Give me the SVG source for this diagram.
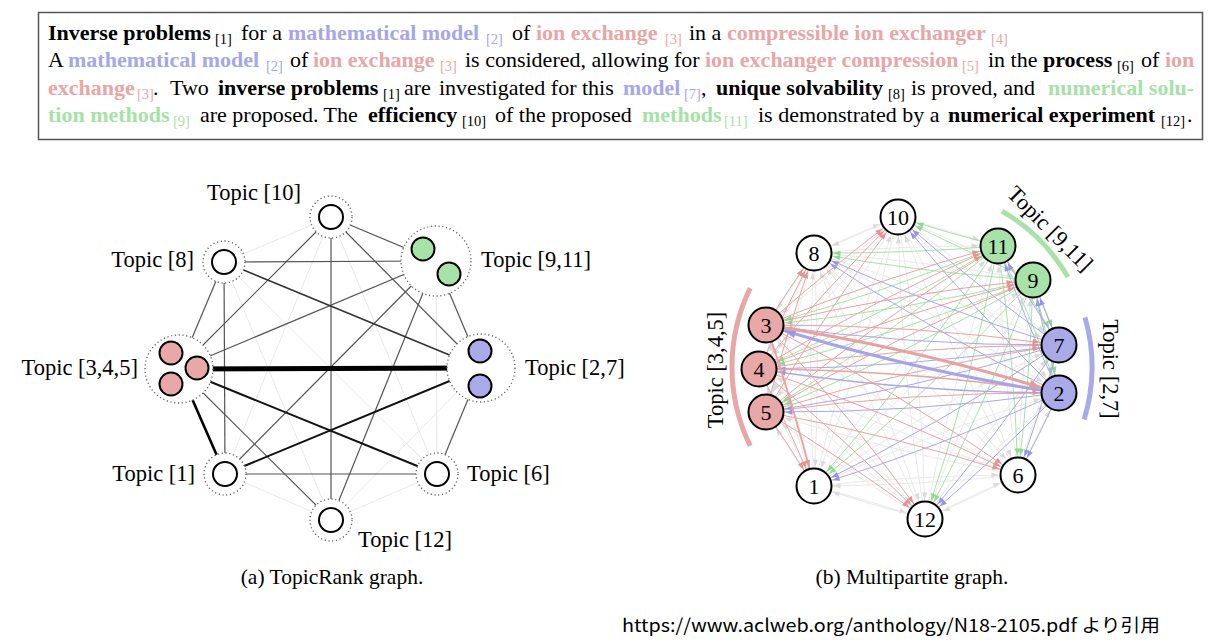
<svg xmlns="http://www.w3.org/2000/svg" width="1229" height="643" viewBox="0 0 1229 643">
<style>
.t{font-family:"Liberation Serif","Times New Roman",serif;font-size:22px;fill:#000}
.b{font-weight:bold}
.s{font-size:14.5px}
.cb{fill:#a6a6e8}.cp{fill:#e8a6a6}.cg{fill:#a6e2a6}
.lbl{font-family:"Liberation Serif","Times New Roman",serif;font-size:22.5px;fill:#000}
.cap{font-family:"Liberation Serif","Times New Roman",serif;font-size:21.5px;fill:#000}
.num{font-family:"Liberation Serif","Times New Roman",serif;font-size:22px;fill:#000;text-anchor:middle}
.dot{fill:#fff;stroke:#666;stroke-width:1.4;stroke-dasharray:1.2 2.6}
.n{stroke:#000;stroke-width:2}
.w{fill:#fff}.p{fill:#e8a8a8}.bl{fill:#aaaae8}.g{fill:#a8e2a8}
.lm{stroke:#555;stroke-width:1.2}
.lf{stroke:#e8e8e8;stroke-width:1}
.eg path{stroke:#e9e9e9;stroke-width:1;fill:none;marker-end:url(#ag)}
.egr path{stroke:#a8e0a8;stroke-width:1;fill:none;marker-end:url(#agr)}
.ebl path{stroke:#a8a8e6;stroke-width:1;fill:none;marker-end:url(#abl)}
.ere path{stroke:#e6a4a4;stroke-width:1;fill:none;marker-end:url(#are)}
</style>
<defs>
<marker id="ag" markerUnits="userSpaceOnUse" orient="auto" refX="39.5" refY="3" markerWidth="40" markerHeight="6" overflow="visible"><path d="M20 3L13 0.4L13 5.6Z" fill="#dadada"/></marker>
<marker id="agr" markerUnits="userSpaceOnUse" orient="auto" refX="39.5" refY="3" markerWidth="40" markerHeight="6" overflow="visible"><path d="M20 3L13 0.4L13 5.6Z" fill="#90d890"/></marker>
<marker id="abl" markerUnits="userSpaceOnUse" orient="auto" refX="39.5" refY="3" markerWidth="40" markerHeight="6" overflow="visible"><path d="M20 3L13 0.4L13 5.6Z" fill="#9494e2"/></marker>
<marker id="are" markerUnits="userSpaceOnUse" orient="auto" refX="39.5" refY="3" markerWidth="40" markerHeight="6" overflow="visible"><path d="M20 3L13 0.4L13 5.6Z" fill="#e29494"/></marker>
<marker id="areT" markerUnits="userSpaceOnUse" orient="auto" refX="39.5" refY="5" markerWidth="40" markerHeight="10" overflow="visible"><path d="M20 5L9 0.8L9 9.2Z" fill="#e29a9a"/></marker>
<marker id="ablT" markerUnits="userSpaceOnUse" orient="auto" refX="39.5" refY="5" markerWidth="40" markerHeight="10" overflow="visible"><path d="M20 5L9 0.8L9 9.2Z" fill="#9a9ae2"/></marker>
</defs>
<rect width="1229" height="643" fill="#fff"/>

<g id="abstract">
<rect x="38.5" y="12.5" width="1164" height="127" fill="#fff" stroke="#555" stroke-width="1.5"/>
<text class="t" y="40">
<tspan x="48" class="b">Inverse problems</tspan><tspan x="215" y="44" class="s">[1]</tspan><tspan x="241" y="40">for a</tspan><tspan x="288" class="b cb">mathematical model</tspan><tspan x="486" y="44" class="s cb">[2]</tspan><tspan x="512" y="40">of</tspan><tspan x="536" class="b cp">ion exchange</tspan><tspan x="665" y="44" class="s cp">[3]</tspan><tspan x="689" y="40">in a</tspan><tspan x="727" class="b cp">compressible ion exchanger</tspan><tspan x="991" y="44" class="s cp">[4]</tspan>
</text>
<text class="t" y="67">
<tspan x="48">A</tspan><tspan x="68" class="b cb">mathematical model</tspan><tspan x="266" y="71" class="s cb">[2]</tspan><tspan x="290" y="67">of</tspan><tspan x="313" class="b cp">ion exchange</tspan><tspan x="440" y="71" class="s cp">[3]</tspan><tspan x="465" y="67">is considered, allowing for</tspan><tspan x="705" class="b cp">ion exchanger compression</tspan><tspan x="962" y="71" class="s cp">[5]</tspan><tspan x="988" y="67">in the</tspan><tspan x="1043" class="b">process</tspan><tspan x="1117" y="71" class="s">[6]</tspan><tspan x="1141" y="67">of</tspan><tspan x="1165" class="b cp">ion</tspan>
</text>
<text class="t" y="95">
<tspan x="48" class="b cp">exchange</tspan><tspan x="137" y="99" class="s cp">[3]</tspan><tspan x="153" y="95">.</tspan><tspan x="170">Two</tspan><tspan x="218" class="b">inverse problems</tspan><tspan x="383" y="99" class="s">[1]</tspan><tspan x="404" y="95">are</tspan><tspan x="439">investigated for this</tspan><tspan x="623" class="b cb">model</tspan><tspan x="684" y="99" class="s cb">[7]</tspan><tspan x="701" y="95">,</tspan><tspan x="716" class="b">unique solvability</tspan><tspan x="888" y="99" class="s">[8]</tspan><tspan x="911" y="95">is proved, and</tspan><tspan x="1048" class="b cg">numerical solu-</tspan>
</text>
<text class="t" y="122">
<tspan x="48" class="b cg">tion methods</tspan><tspan x="173" y="126" class="s cg">[9]</tspan><tspan x="200" y="122">are proposed. The</tspan><tspan x="368" class="b">efficiency</tspan><tspan x="462" y="126" class="s">[10]</tspan><tspan x="495" y="122">of the proposed</tspan><tspan x="642" class="b cg">methods</tspan><tspan x="724" y="126" class="s cg">[11]</tspan><tspan x="758" y="122">is demonstrated by a</tspan><tspan x="948" class="b">numerical experiment</tspan><tspan x="1161" y="126" class="s">[12]</tspan><tspan x="1187" y="122">.</tspan>
</text>
</g>

<g id="connectors-a">
<line class="lf" x1="331" y1="217" x2="224" y2="262"/>
<line class="lf" x1="331" y1="217" x2="225" y2="474"/>
<line class="lf" x1="331" y1="217" x2="437" y2="474"/>
<line class="lf" x1="224" y1="262" x2="437" y2="474"/>
<line class="lf" x1="224" y1="262" x2="331" y2="520"/>
<line class="lf" x1="436" y1="261" x2="437" y2="474"/>
<line class="lf" x1="481" y1="368" x2="331" y2="520"/>
<line class="lf" x1="225" y1="474" x2="331" y2="520"/>
<line class="lf" x1="437" y1="474" x2="331" y2="520"/>
<line class="lm" x1="331" y1="217" x2="436" y2="261"/>
<line class="lm" x1="331" y1="217" x2="179" y2="369"/>
<line class="lm" x1="331" y1="217" x2="481" y2="368"/>
<line class="lm" x1="331" y1="217" x2="331" y2="520"/>
<line class="lm" x1="224" y1="262" x2="436" y2="261"/>
<line class="lm" x1="224" y1="262" x2="179" y2="369"/>
<line class="lm" x1="224" y1="262" x2="225" y2="474"/>
<line class="lm" x1="436" y1="261" x2="179" y2="369"/>
<line class="lm" x1="436" y1="261" x2="481" y2="368"/>
<line class="lm" x1="436" y1="261" x2="225" y2="474"/>
<line class="lm" x1="436" y1="261" x2="331" y2="520"/>
<line class="lm" x1="179" y1="369" x2="331" y2="520"/>
<line class="lm" x1="481" y1="368" x2="437" y2="474"/>
<line class="lm" x1="225" y1="474" x2="437" y2="474"/>
<line x1="224" y1="262" x2="481" y2="368" stroke="#333" stroke-width="1.6"/>
<line x1="481" y1="368" x2="225" y2="474" stroke="#111" stroke-width="2"/>
<line x1="179" y1="369" x2="437" y2="474" stroke="#111" stroke-width="2"/>
<line x1="179" y1="369" x2="225" y2="474" stroke="#000" stroke-width="2.6"/>
<line x1="179" y1="369" x2="481" y2="368" stroke="#000" stroke-width="5"/>
</g>

<g id="topic10-a"><circle class="dot" cx="331" cy="217" r="21"/><circle class="n w" cx="331" cy="217" r="12"/><text class="lbl" x="301" y="200" text-anchor="end">Topic [10]</text></g>
<g id="topic8-a"><circle class="dot" cx="224" cy="262" r="21"/><circle class="n w" cx="224" cy="262" r="12"/><text class="lbl" x="194" y="267" text-anchor="end">Topic [8]</text></g>
<g id="topic911-a"><circle class="dot" cx="436" cy="261" r="35"/><circle class="n g" cx="423" cy="249" r="11.5"/><circle class="n g" cx="449" cy="274" r="11.5"/><text class="lbl" x="481" y="267">Topic [9,11]</text></g>
<g id="topic345-a"><circle class="dot" cx="179" cy="369" r="34"/><circle class="n p" cx="171" cy="353" r="11.5"/><circle class="n p" cx="197" cy="368" r="11.5"/><circle class="n p" cx="171" cy="384" r="11.5"/><text class="lbl" x="138" y="375" text-anchor="end">Topic [3,4,5]</text></g>
<g id="topic27-a"><circle class="dot" cx="481" cy="368" r="34"/><circle class="n bl" cx="480" cy="351" r="11.5"/><circle class="n bl" cx="480" cy="386" r="11.5"/><text class="lbl" x="525" y="375">Topic [2,7]</text></g>
<g id="topic1-a"><circle class="dot" cx="225" cy="474" r="21"/><circle class="n w" cx="225" cy="474" r="12"/><text class="lbl" x="195" y="481" text-anchor="end">Topic [1]</text></g>
<g id="topic6-a"><circle class="dot" cx="437" cy="474" r="21"/><circle class="n w" cx="437" cy="474" r="12"/><text class="lbl" x="467" y="481">Topic [6]</text></g>
<g id="topic12-a"><circle class="dot" cx="331" cy="520" r="21"/><circle class="n w" cx="331" cy="520" r="12"/><text class="lbl" x="358" y="547">Topic [12]</text></g>
<text class="cap" x="332" y="584" text-anchor="middle">(a) TopicRank graph.</text>

<g id="connectors-b">
<g class="eg">
<path d="M814 486A2000 2000 0 0 1 1059 393"/><path d="M814 486A2000 2000 0 0 1 766 325"/><path d="M814 486A2000 2000 0 0 1 759 369"/><path d="M814 486A2000 2000 0 0 1 766 412"/><path d="M814 486A2000 2000 0 0 1 1018 475"/><path d="M814 486A2000 2000 0 0 1 1059 345"/><path d="M814 486A2000 2000 0 0 1 814 253"/><path d="M814 486A2000 2000 0 0 1 1033 280"/><path d="M814 486A2000 2000 0 0 1 898 217"/><path d="M814 486A2000 2000 0 0 1 998 246"/><path d="M814 486A2000 2000 0 0 1 925 519"/>
<path d="M1018 475A2000 2000 0 0 1 814 486"/><path d="M1018 475A2000 2000 0 0 1 1059 393"/><path d="M1018 475A2000 2000 0 0 1 766 325"/><path d="M1018 475A2000 2000 0 0 1 759 369"/><path d="M1018 475A2000 2000 0 0 1 766 412"/><path d="M1018 475A2000 2000 0 0 1 1059 345"/><path d="M1018 475A2000 2000 0 0 1 814 253"/><path d="M1018 475A2000 2000 0 0 1 1033 280"/><path d="M1018 475A2000 2000 0 0 1 898 217"/><path d="M1018 475A2000 2000 0 0 1 998 246"/><path d="M1018 475A2000 2000 0 0 1 925 519"/>
<path d="M814 253A2000 2000 0 0 1 814 486"/><path d="M814 253A2000 2000 0 0 1 1059 393"/><path d="M814 253A2000 2000 0 0 1 766 325"/><path d="M814 253A2000 2000 0 0 1 759 369"/><path d="M814 253A2000 2000 0 0 1 766 412"/><path d="M814 253A2000 2000 0 0 1 1018 475"/><path d="M814 253A2000 2000 0 0 1 1059 345"/><path d="M814 253A2000 2000 0 0 1 1033 280"/><path d="M814 253A2000 2000 0 0 1 898 217"/><path d="M814 253A2000 2000 0 0 1 998 246"/><path d="M814 253A2000 2000 0 0 1 925 519"/>
<path d="M898 217A2000 2000 0 0 1 814 486"/><path d="M898 217A2000 2000 0 0 1 1059 393"/><path d="M898 217A2000 2000 0 0 1 766 325"/><path d="M898 217A2000 2000 0 0 1 759 369"/><path d="M898 217A2000 2000 0 0 1 766 412"/><path d="M898 217A2000 2000 0 0 1 1018 475"/><path d="M898 217A2000 2000 0 0 1 1059 345"/><path d="M898 217A2000 2000 0 0 1 814 253"/><path d="M898 217A2000 2000 0 0 1 1033 280"/><path d="M898 217A2000 2000 0 0 1 998 246"/><path d="M898 217A2000 2000 0 0 1 925 519"/>
<path d="M925 519A2000 2000 0 0 1 814 486"/><path d="M925 519A2000 2000 0 0 1 1059 393"/><path d="M925 519A2000 2000 0 0 1 766 325"/><path d="M925 519A2000 2000 0 0 1 759 369"/><path d="M925 519A2000 2000 0 0 1 766 412"/><path d="M925 519A2000 2000 0 0 1 1018 475"/><path d="M925 519A2000 2000 0 0 1 1059 345"/><path d="M925 519A2000 2000 0 0 1 814 253"/><path d="M925 519A2000 2000 0 0 1 1033 280"/><path d="M925 519A2000 2000 0 0 1 898 217"/><path d="M925 519A2000 2000 0 0 1 998 246"/>
</g>
<g class="egr">
<path d="M1033 280A2000 2000 0 0 1 814 486"/><path d="M1033 280A2000 2000 0 0 1 1059 393"/><path d="M1033 280A2000 2000 0 0 1 766 325"/><path d="M1033 280A2000 2000 0 0 1 759 369"/><path d="M1033 280A2000 2000 0 0 1 766 412"/><path d="M1033 280A2000 2000 0 0 1 1018 475"/><path d="M1033 280A2000 2000 0 0 1 1059 345"/><path d="M1033 280A2000 2000 0 0 1 814 253"/><path d="M1033 280A2000 2000 0 0 1 898 217"/><path d="M1033 280A2000 2000 0 0 1 925 519"/>
<path d="M998 246A2000 2000 0 0 1 814 486"/><path d="M998 246A2000 2000 0 0 1 1059 393"/><path d="M998 246A2000 2000 0 0 1 766 325"/><path d="M998 246A2000 2000 0 0 1 759 369"/><path d="M998 246A2000 2000 0 0 1 766 412"/><path d="M998 246A2000 2000 0 0 1 1018 475"/><path d="M998 246A2000 2000 0 0 1 1059 345"/><path d="M998 246A2000 2000 0 0 1 814 253"/><path d="M998 246A2000 2000 0 0 1 898 217"/><path d="M998 246A2000 2000 0 0 1 925 519"/>
</g>
<g class="ebl">
<path d="M1059 393A2000 2000 0 0 1 814 486"/><path d="M1059 393A2000 2000 0 0 1 766 412"/><path d="M1059 393A2000 2000 0 0 1 1018 475"/><path d="M1059 393A2000 2000 0 0 1 814 253"/><path d="M1059 393A2000 2000 0 0 1 1033 280"/><path d="M1059 393A2000 2000 0 0 1 898 217"/><path d="M1059 393A2000 2000 0 0 1 998 246"/><path d="M1059 393A2000 2000 0 0 1 925 519"/>
<path d="M1059 345A2000 2000 0 0 1 814 486"/><path d="M1059 345A2000 2000 0 0 1 766 325"/><path d="M1059 345A2000 2000 0 0 1 759 369"/><path d="M1059 345A2000 2000 0 0 1 766 412"/><path d="M1059 345A2000 2000 0 0 1 1018 475"/><path d="M1059 345A2000 2000 0 0 1 814 253"/><path d="M1059 345A2000 2000 0 0 1 1033 280"/><path d="M1059 345A2000 2000 0 0 1 898 217"/><path d="M1059 345A2000 2000 0 0 1 998 246"/><path d="M1059 345A2000 2000 0 0 1 925 519"/>
<path d="M1059 393A2000 2000 0 0 1 759 369" style="stroke-width:1.5"/>
</g>
<g class="ere">
<path d="M766 325A2000 2000 0 0 1 1018 475"/><path d="M766 325A2000 2000 0 0 1 1059 345"/><path d="M766 325A2000 2000 0 0 1 814 253"/><path d="M766 325A2000 2000 0 0 1 1033 280"/><path d="M766 325A2000 2000 0 0 1 898 217"/><path d="M766 325A2000 2000 0 0 1 998 246"/><path d="M766 325A2000 2000 0 0 1 925 519"/>
<path d="M759 369A2000 2000 0 0 1 814 486"/><path d="M759 369A2000 2000 0 0 1 1018 475"/><path d="M759 369A2000 2000 0 0 1 1059 345"/><path d="M759 369A2000 2000 0 0 1 814 253"/><path d="M759 369A2000 2000 0 0 1 1033 280"/><path d="M759 369A2000 2000 0 0 1 898 217"/><path d="M759 369A2000 2000 0 0 1 998 246"/><path d="M759 369A2000 2000 0 0 1 925 519"/>
<path d="M766 412A2000 2000 0 0 1 814 486"/><path d="M766 412A2000 2000 0 0 1 1059 393"/><path d="M766 412A2000 2000 0 0 1 1018 475"/><path d="M766 412A2000 2000 0 0 1 1059 345"/><path d="M766 412A2000 2000 0 0 1 814 253"/><path d="M766 412A2000 2000 0 0 1 1033 280"/><path d="M766 412A2000 2000 0 0 1 898 217"/><path d="M766 412A2000 2000 0 0 1 998 246"/><path d="M766 412A2000 2000 0 0 1 925 519"/>
<path d="M759 369A2000 2000 0 0 1 1059 393" style="stroke-width:1.5"/>
<path d="M766 325A2000 2000 0 0 1 814 486" style="stroke-width:2"/>
</g>
<path d="M1059 393A2000 2000 0 0 1 766 325" fill="none" stroke="#a4a4e6" stroke-width="3" marker-end="url(#ablT)"/>
<path d="M766 325A2000 2000 0 0 1 1059 393" fill="none" stroke="#e6a2a2" stroke-width="3" marker-end="url(#areT)"/>
</g>

<g id="topic-arcs-b" fill="none" stroke-width="5">
<path d="M750.2 288.1A180 180 0 0 0 750.2 445.9" stroke="#e8a6a6"/>
<path d="M1002 211.1A180 180 0 0 1 1067.9 277" stroke="#a8e2a8"/>
<path d="M1085 317.4A180 180 0 0 1 1084.1 419.6" stroke="#aaaae8"/>
</g>
<text class="lbl" text-anchor="middle" transform="translate(723 370) rotate(-90)">Topic [3,4,5]</text>
<text class="lbl" text-anchor="middle" transform="translate(1045 234) rotate(45)">Topic [9,11]</text>
<text class="lbl" text-anchor="middle" transform="translate(1103 369) rotate(90)">Topic [2,7]</text>

<g id="node10-b"><circle class="n w" cx="898" cy="217" r="17.5"/><text class="num" x="898" y="224.5">10</text></g>
<g id="node8-b"><circle class="n w" cx="814" cy="253" r="17.5"/><text class="num" x="814" y="260.5">8</text></g>
<g id="node11-b"><circle class="n g" cx="998" cy="246" r="17.5"/><text class="num" x="998" y="253.5">11</text></g>
<g id="node9-b"><circle class="n g" cx="1033" cy="280" r="17.5"/><text class="num" x="1033" y="287.5">9</text></g>
<g id="node7-b"><circle class="n bl" cx="1059" cy="345" r="17.5"/><text class="num" x="1059" y="352.5">7</text></g>
<g id="node2-b"><circle class="n bl" cx="1059" cy="393" r="17.5"/><text class="num" x="1059" y="400.5">2</text></g>
<g id="node6-b"><circle class="n w" cx="1018" cy="475" r="17.5"/><text class="num" x="1018" y="482.5">6</text></g>
<g id="node12-b"><circle class="n w" cx="925" cy="519" r="17.5"/><text class="num" x="925" y="526.5">12</text></g>
<g id="node1-b"><circle class="n w" cx="814" cy="486" r="17.5"/><text class="num" x="814" y="493.5">1</text></g>
<g id="node5-b"><circle class="n p" cx="766" cy="412" r="17.5"/><text class="num" x="766" y="419.5">5</text></g>
<g id="node4-b"><circle class="n p" cx="759" cy="369" r="17.5"/><text class="num" x="759" y="376.5">4</text></g>
<g id="node3-b"><circle class="n p" cx="766" cy="325" r="17.5"/><text class="num" x="766" y="332.5">3</text></g>
<text class="cap" x="912" y="584" text-anchor="middle">(b) Multipartite graph.</text>

<text x="622" y="632" font-family="'Noto Sans CJK JP','Noto Sans',sans-serif" font-size="18" fill="#000" textLength="538" lengthAdjust="spacingAndGlyphs">https://www.aclweb.org/anthology/N18-2105.pdf より引用</text>
</svg>
